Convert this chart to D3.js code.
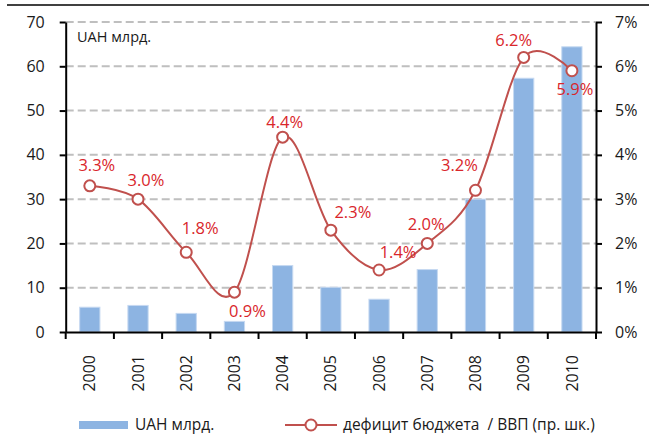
<!DOCTYPE html>
<html>
<head>
<meta charset="utf-8">
<script src="https://cdn.jsdelivr.net/npm/d3@7"></script>
<style>
  body { margin: 0; background: #fff; }
  text { font-family: "Open Sans", "Noto Sans", sans-serif; }
</style>
</head>
<body>
<div id="chart"></div>
<script>
var years = ["2000", "2001", "2002", "2003", "2004", "2005", "2006", "2007", "2008", "2009", "2010"];
var uahBn = [5.6, 6.0, 4.2, 2.4, 15.0, 10.1, 7.4, 14.1, 30.0, 57.3, 64.4];
var deficitPct = [3.3, 3.0, 1.8, 0.9, 4.4, 2.3, 1.4, 2.0, 3.2, 6.2, 5.9];
var leftTicks = [0, 10, 20, 30, 40, 50, 60, 70];
var rightTicks = [0, 1, 2, 3, 4, 5, 6, 7];

// label offsets from the point (layout only)
var labelOffset = [[7, -21], [8, -19], [14, -24], [13, 19], [2, -15], [22, -18], [19, -18], [-1, -19], [-16, -25], [-10, -17], [3, 19]];

var w = 649, h = 434;
var x0 = 65.7, x1 = 596, yTop = 22, yBot = 332;

var svg = d3.select("#chart").append("svg")
    .attr("width", w)
    .attr("height", h);

// top rule
svg.append("line")
    .attr("x1", 7).attr("x2", w)
    .attr("y1", 5).attr("y2", 5)
    .style("stroke", "#000")
    .style("stroke-width", 1.5);

var x = d3.scaleBand().domain(years).range([x0, x1]);
var y = d3.scaleLinear().domain([0, 70]).range([yBot, yTop]);
var y2 = d3.scaleLinear().domain([0, 7]).range([yBot, yTop]);

// gridlines
svg.append("g").selectAll("line")
    .data(leftTicks.filter(function(d) { return d > 0; }))
  .enter().append("line")
    .attr("x1", x0).attr("x2", x1)
    .attr("y1", function(d) { return y(d); })
    .attr("y2", function(d) { return y(d); })
    .style("stroke", "#BFBFBF")
    .style("stroke-width", 2)
    .style("stroke-dasharray", "8,4");

// bars
var bw = x.bandwidth() * 0.42;
svg.append("g").selectAll("rect")
    .data(uahBn)
  .enter().append("rect")
    .attr("x", function(d, i) { return x(years[i]) + x.bandwidth() / 2 - bw / 2; })
    .attr("y", function(d) { return y(d); })
    .attr("width", bw)
    .attr("height", function(d) { return yBot - y(d); })
    .style("fill", "#8DB4E2")
    .style("stroke", "#C6D9F1")
    .style("stroke-width", 1);

// axes
var axL = svg.append("g")
    .attr("transform", "translate(" + x0 + ",0)")
    .call(d3.axisLeft(y).tickValues(leftTicks).tickSize(6).tickSizeOuter(0).tickPadding(15));
var axR = svg.append("g")
    .attr("transform", "translate(" + x1 + ",0)")
    .call(d3.axisRight(y2).tickValues(rightTicks).tickSize(6).tickSizeOuter(0).tickPadding(13)
      .tickFormat(function(d) { return d + "%"; }));
var axB = svg.append("g")
    .attr("transform", "translate(0," + yBot + ")")
    .call(d3.axisBottom(x).tickSize(0).tickSizeOuter(0).tickPadding(0));

// x ticks at category boundaries
svg.append("g").selectAll("line")
    .data(years.concat(["end"]))
  .enter().append("line")
    .attr("x1", function(d, i) { return x0 + i * x.step(); })
    .attr("x2", function(d, i) { return x0 + i * x.step(); })
    .attr("y1", yBot).attr("y2", yBot + 7)
    .style("stroke", "#000")
    .style("stroke-width", 2);

[axL, axR, axB].forEach(function(a) {
  a.selectAll("path").style("stroke", "#000").style("stroke-width", 2);
  a.selectAll("line").style("stroke", "#000").style("stroke-width", 2);
  a.selectAll("text").style("font-size", "16px").style("fill", "#1a1a1a")
    .style("font-family", "'Open Sans', 'Noto Sans', sans-serif");
});

axB.selectAll("text")
    .attr("transform", "rotate(-90)")
    .attr("x", -23)
    .attr("y", 0)
    .attr("dy", "0.35em")
    .style("text-anchor", "end");

svg.append("text")
    .attr("x", 77).attr("y", 42)
    .style("font-size", "14.5px")
    .style("fill", "#1a1a1a")
    .text("UAH млрд.");

// line
var pts = deficitPct.map(function(d, i) { return [x(years[i]) + x.bandwidth() / 2, y2(d)]; });
var line = d3.line().curve(d3.curveCatmullRom.alpha(0));
svg.append("path")
    .attr("d", line(pts))
    .style("fill", "none")
    .style("stroke", "#C0504D")
    .style("stroke-width", 2);

svg.append("g").selectAll("circle")
    .data(pts)
  .enter().append("circle")
    .attr("cx", function(d) { return d[0]; })
    .attr("cy", function(d) { return d[1]; })
    .attr("r", 5.5)
    .style("fill", "#fff")
    .style("stroke", "#C0504D")
    .style("stroke-width", 2);

svg.append("g").selectAll("text")
    .data(deficitPct)
  .enter().append("text")
    .attr("x", function(d, i) { return pts[i][0] + labelOffset[i][0]; })
    .attr("y", function(d, i) { return pts[i][1] + labelOffset[i][1]; })
    .attr("dy", "0.35em")
    .style("text-anchor", "middle")
    .style("font-size", "16.5px")
    .style("fill", "#D9262B")
    .text(function(d) { return d.toFixed(1) + "%"; });

// legend
var lg = svg.append("g");
lg.append("rect")
    .attr("x", 79).attr("y", 421)
    .attr("width", 49).attr("height", 8)
    .style("fill", "#8DB4E2");
lg.append("text")
    .attr("x", 135).attr("y", 425).attr("dy", "0.35em")
    .style("font-size", "15.5px").style("fill", "#1a1a1a")
    .text("UAH млрд.");
lg.append("line")
    .attr("x1", 285).attr("x2", 337)
    .attr("y1", 425).attr("y2", 425)
    .style("stroke", "#C0504D").style("stroke-width", 2);
lg.append("circle")
    .attr("cx", 311).attr("cy", 425).attr("r", 5.5)
    .style("fill", "#fff").style("stroke", "#C0504D").style("stroke-width", 2);
lg.append("text")
    .attr("x", 343).attr("y", 425).attr("dy", "0.35em")
    .style("font-size", "15.5px").style("fill", "#1a1a1a")
    .style("white-space", "pre")
    .text("дефицит бюджета  / ВВП (пр. шк.)");
</script>
</body>
</html>
